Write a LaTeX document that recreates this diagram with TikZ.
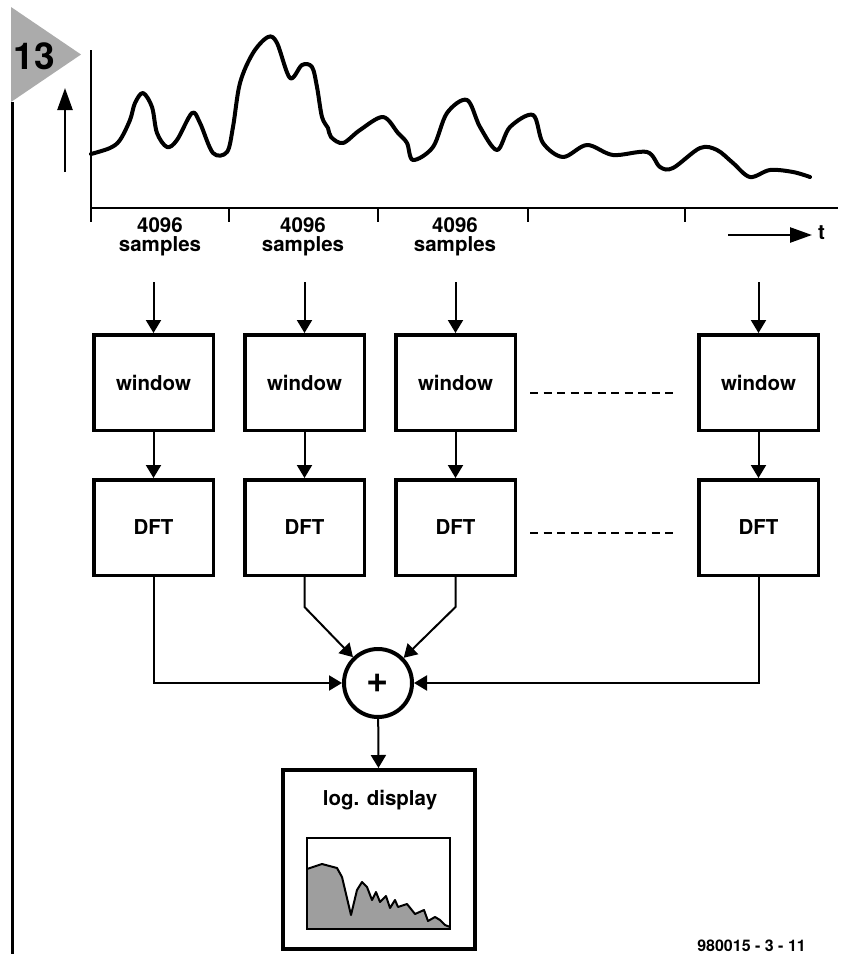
\documentclass[tikz,border=0pt]{standalone}
\usepackage{fontspec}
\setmainfont{TeX Gyre Heros}
\usetikzlibrary{arrows.meta}
\definecolor{flaggray}{gray}{0.67}
\definecolor{specgray}{gray}{0.62}
\tikzset{
  lbl/.style={font=\bfseries\fontsize{20.5}{18.5}\selectfont, align=center, inner sep=0pt},
  blk/.style={draw, line width=3.5pt, minimum width=119.5pt, minimum height=95.5pt,
    font=\bfseries\fontsize{20.5}{18.5}\selectfont},
  arr/.style={line width=2pt, -{Triangle[length=13pt,width=15pt]}},
  longarr/.style={line width=2.5pt, -{Triangle[length=22pt,width=15pt]}},
  axis/.style={line width=2.5pt},
  dots/.style={line width=2pt, dash pattern=on 8pt off 5.5pt},
}

\begin{document}
\begin{tikzpicture}[x=1pt,y=-1pt]
\useasboundingbox (0,0) rectangle (843,954);
% figure number
\fill[flaggray] (11,7) -- (81,54.5) -- (11,102) -- cycle;
\node[font=\bfseries\fontsize{37}{37}\selectfont, inner sep=0pt] (fignum) at (34,56) {13};
\draw[line width=3pt] (12.5,102) -- (12.5,954);
% signal
\coordinate (ylo) at (65,172);
\coordinate (yhi) at (65,88);
\draw[longarr] (ylo) -- (yhi);
\draw[axis] (91,50) -- (91,208) -- (838,208);
\foreach \x in {91,229,378,528,685}
  \draw[axis] (\x,208) -- (\x,222);
\draw[line width=4pt, line join=round, line cap=round] plot[smooth, tension=0.55] coordinates {
  (91,154) (110,148) (120,140) (130,120) (135,103) (143,93) (152,107) (157,133)
  (167,147) (177,140) (192,113) (200,123) (213,153) (227,152) (233,127) (240,83)
  (253,53) (268,37) (277,43) (290,78) (302,65) (312,67) (317,87) (322,117)
  (328,128) (331,137) (343,143) (360,130) (383,117) (398,133) (407,143) (413,160)
  (433,147) (447,113) (467,100) (480,127) (497,150) (510,127) (533,115) (543,143)
  (563,157) (587,145) (613,155) (647,152) (660,167) (673,168) (700,148) (717,150)
  (733,163) (750,177) (770,170) (793,172) (810,177)};
\node[lbl] (smp1) at (160,237) {4096\\samples};
\node[lbl] (smp2) at (303,237) {4096\\samples};
\node[lbl] (smp3) at (455,237) {4096\\samples};
\coordinate (tfrom) at (728,235);
\coordinate (tto) at (812,235);
\draw[longarr] (tfrom) -- (tto);
\node[lbl, anchor=west] (tlbl) at (818,233) {t};
% blocks
\node[blk] (win1) at (153.5,382.5) {window};
\node[blk] (win2) at (304.5,382.5) {window};
\node[blk] (win3) at (455.5,382.5) {window};
\node[blk] (win4) at (758.5,382.5) {window};
\node[blk] (dft1) at (153.5,527.5) {DFT};
\node[blk] (dft2) at (304.5,527.5) {DFT};
\node[blk] (dft3) at (455.5,527.5) {DFT};
\node[blk] (dft4) at (758.5,527.5) {DFT};
\coordinate (in1) at (153.5,282);
\coordinate (in2) at (304.5,282);
\coordinate (in3) at (455.5,282);
\coordinate (in4) at (758.5,282);
\draw[arr] (in1) -- (win1);
\draw[arr] (in2) -- (win2);
\draw[arr] (in3) -- (win3);
\draw[arr] (in4) -- (win4);
\draw[arr] (win1) -- (dft1);
\draw[arr] (win2) -- (dft2);
\draw[arr] (win3) -- (dft3);
\draw[arr] (win4) -- (dft4);
\draw[dots] ([xshift=13pt,yshift=-10pt]win3.east) -- ([xshift=-21pt,yshift=-10pt]win4.west);
\draw[dots] ([xshift=13pt,yshift=-5.5pt]dft3.east) -- ([xshift=-21pt,yshift=-5.5pt]dft4.west);
% summing
\node[draw, circle, line width=4pt, minimum size=68pt, inner sep=0pt,
  font=\bfseries\fontsize{38}{38}\selectfont] (sum) at (378,683) {+};
\draw[arr] (dft1.south) |- (sum.west);
\draw[arr] (dft2.south) -- ++(0,30) -- (sum);
\draw[arr] (dft3.south) -- ++(0,30) -- (sum);
\draw[arr] (dft4.south) |- (sum.east);
% display
\node[draw, line width=4pt, minimum width=192pt, minimum height=179pt] (disp) at (379,859.5) {};
\draw[arr] (sum) -- (disp);
\node[lbl] (disptitle) at (380,800) {log. display};
\fill[specgray] (307,929) -- (307,869) -- (322,864) -- (337,868) -- (342,877) -- (351,915)
  -- (357,890) -- (362,882) -- (367,887) -- (372,900) -- (376,892) -- (380,902)
  -- (386,896) -- (390,908) -- (395,900) -- (398,907) -- (407,904) -- (415,914)
  -- (424,910) -- (428,921) -- (435,917) -- (440,920) -- (445,925) -- (450,927)
  -- (450,929) -- cycle;
\draw[line width=2pt, line join=round] (307,869) -- (322,864) -- (337,868) -- (342,877) -- (351,915)
  -- (357,890) -- (362,882) -- (367,887) -- (372,900) -- (376,892) -- (380,902)
  -- (386,896) -- (390,908) -- (395,900) -- (398,907) -- (407,904) -- (415,914)
  -- (424,910) -- (428,921) -- (435,917) -- (440,920) -- (445,925) -- (450,927);
\draw[line width=2pt] (307,838) rectangle (450,929);
\node[font=\bfseries\fontsize{16}{16}\selectfont, anchor=east, inner sep=0pt] (code) at (806,946) {980015 - 3 - 11};
\end{tikzpicture}
\end{document}
